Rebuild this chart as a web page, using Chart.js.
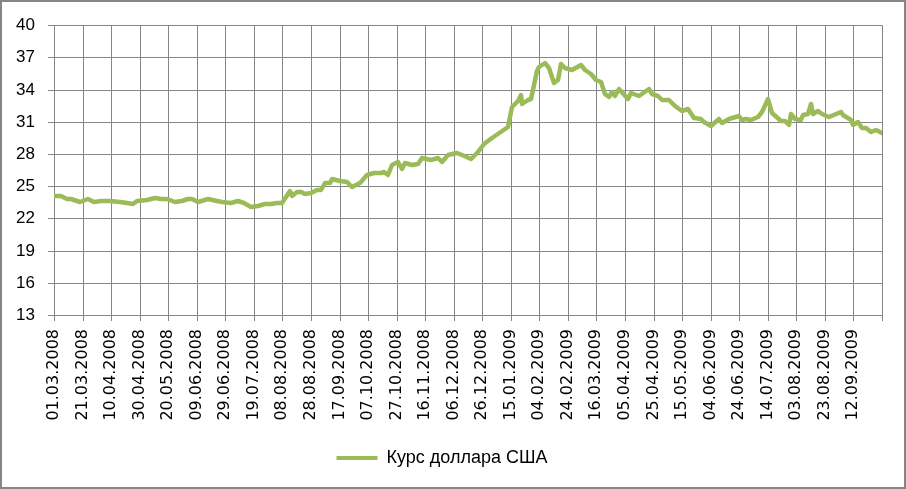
<!DOCTYPE html>
<html>
<head>
<meta charset="utf-8">
<script src="https://cdn.jsdelivr.net/npm/chart.js@4"></script>
<style>
  html, body { margin: 0; padding: 0; background: #fff; }
  #wrap {
    width: 906px; height: 489px; box-sizing: border-box;
    border: 2px solid #868686; position: relative;
  }
</style>
</head>
<body>
<div id="wrap"><canvas id="kursChart"></canvas></div>
<script>
// Дни от 01.03.2008 и курс доллара
const days = [0, 5, 9, 12, 18, 24, 28, 33, 39, 46, 51, 55, 58, 65, 71, 75, 79, 85, 90, 94, 97,
  101, 108, 114, 118, 124, 129, 133, 138, 143, 148, 152, 156, 160, 165, 167, 170, 173, 176, 180,
  184, 187, 190, 193, 195, 200, 205, 209, 214, 219, 224, 229, 231, 234, 237, 241, 244, 246, 251,
  255, 258, 264, 269, 272, 276, 282, 286, 292, 297, 301, 307, 318, 321, 325, 327, 328, 332, 334,
  338, 340, 344, 347, 350, 353, 355, 358, 363, 369, 372, 376, 380, 383, 386, 389, 391, 393, 396,
  402, 404, 410, 417, 419, 423, 426, 431, 435, 440, 444, 448, 453, 455, 460, 466, 468, 473, 480,
  482, 485, 488, 493, 496, 500, 503, 509, 512, 515, 516, 519, 523, 525, 528, 530, 532, 535, 538,
  543, 551, 553, 558, 560, 563, 566, 569, 572, 576, 580];
const kurs = [24.05, 24.05, 23.85, 23.8, 23.5, 23.8, 23.5, 23.65, 23.6, 23.55, 23.45, 23.33, 23.6,
  23.75, 23.9, 23.8, 23.85, 23.55, 23.6, 23.8, 23.8, 23.5, 23.8, 23.65, 23.55, 23.4, 23.6, 23.4,
  23.1, 23.15, 23.35, 23.3, 23.4, 23.4, 24.55, 24.1, 24.45, 24.5, 24.3, 24.4, 24.6, 24.66, 25.33,
  25.3, 25.7, 25.45, 25.43, 24.95, 25.3, 26.05, 26.2, 26.2, 26.3, 26.05, 26.95, 27.28, 26.6, 27.13,
  26.95, 27.05, 27.6, 27.45, 27.6, 27.3, 27.9, 28.1, 27.9, 27.55, 28.2, 28.95, 29.5, 30.5, 32.35,
  32.95, 33.5, 32.7, 33.0, 33.15, 35.75, 36.15, 36.45, 36.05, 34.65, 34.85, 36.4, 36.05, 35.8,
  36.3, 35.8, 35.45, 34.85, 34.7, 33.55, 33.3, 33.75, 33.45, 34.05, 33.15, 33.65, 33.4, 34.1,
  33.55, 33.45, 33.05, 33.0, 32.45, 32.05, 32.2, 31.4, 31.3, 31.0, 30.6, 31.25, 30.9, 31.3, 31.5,
  31.2, 31.3, 31.15, 31.45, 31.9, 33.1, 31.8, 31.1, 31.05, 30.7, 31.75, 31.25, 31.2, 31.6, 31.75,
  32.65, 31.75, 32.05, 31.75, 31.45, 31.95, 31.6, 31.15, 30.7, 30.95, 30.45, 30.45, 30.05, 30.2,
  29.95];

// Подписи оси X (каждые 20 дней)
const tickLabels = ['01.03.2008', '21.03.2008', '10.04.2008', '30.04.2008', '20.05.2008',
  '09.06.2008', '29.06.2008', '19.07.2008', '08.08.2008', '28.08.2008', '17.09.2008',
  '07.10.2008', '27.10.2008', '16.11.2008', '06.12.2008', '26.12.2008', '15.01.2009',
  '04.02.2009', '24.02.2009', '16.03.2009', '05.04.2009', '25.04.2009', '15.05.2009',
  '04.06.2009', '24.06.2009', '14.07.2009', '03.08.2009', '23.08.2009', '12.09.2009'];

const seriesName = 'Курс доллара США';
const green = '#9BBB59';
const gridColor = '#868686';

function initKursChart() {
  const ctx = document.getElementById('kursChart');
  if (!ctx) return;

  new Chart(ctx, {
    type: 'line',
    data: {
      datasets: [{
        label: seriesName,
        data: days.map((d, i) => ({ x: d, y: kurs[i] })),
        borderColor: green,
        backgroundColor: green,
        borderWidth: 4.5,
        borderJoinStyle: 'round',
        borderCapStyle: 'round',
        pointRadius: 0,
        tension: 0
      }]
    },
    options: {
      responsive: true,
      maintainAspectRatio: false,
      animation: false,
      layout: { padding: { left: 0, right: 22, top: 14, bottom: 10 } },
      plugins: {
        tooltip: { enabled: false },
        legend: {
          position: 'bottom',
          labels: {
            color: '#000',
            font: { family: 'Liberation Sans', size: 18 },
            boxWidth: 41,
            boxHeight: 4,
            padding: 10,
            generateLabels: chart => Chart.defaults.plugins.legend.labels.generateLabels(chart)
              .map(l => ({ ...l, lineWidth: 0, fillStyle: green }))
          }
        }
      },
      scales: {
        x: {
          type: 'linear',
          min: 0,
          max: 580,
          alignToPixels: true,
          afterFit: s => { s.height = 124; s.paddingRight = 0; },
          afterBuildTicks: s => {
            s.ticks = [];
            for (let v = 0; v <= 580; v += 20) s.ticks.push({ value: v });
          },
          grid: { color: gridColor, tickLength: 6, drawTicks: true },
          border: { display: false },
          ticks: {
            maxRotation: 90,
            minRotation: 90,
            autoSkip: false,
            padding: 8,
            color: '#000',
            font: { family: 'DejaVu Sans', size: 16 },
            callback: v => tickLabels[v / 20] || ''
          }
        },
        y: {
          min: 13,
          max: 40,
          alignToPixels: true,
          afterFit: s => { s.width = 52; },
          grid: { color: gridColor, tickLength: 6 },
          border: { display: false },
          ticks: {
            stepSize: 3,
            padding: 13,
            color: '#000',
            font: { family: 'Liberation Sans', size: 17 }
          }
        }
      }
    }
  });
}

document.addEventListener('DOMContentLoaded', () => {
  initKursChart();
});
</script>
</body>
</html>
